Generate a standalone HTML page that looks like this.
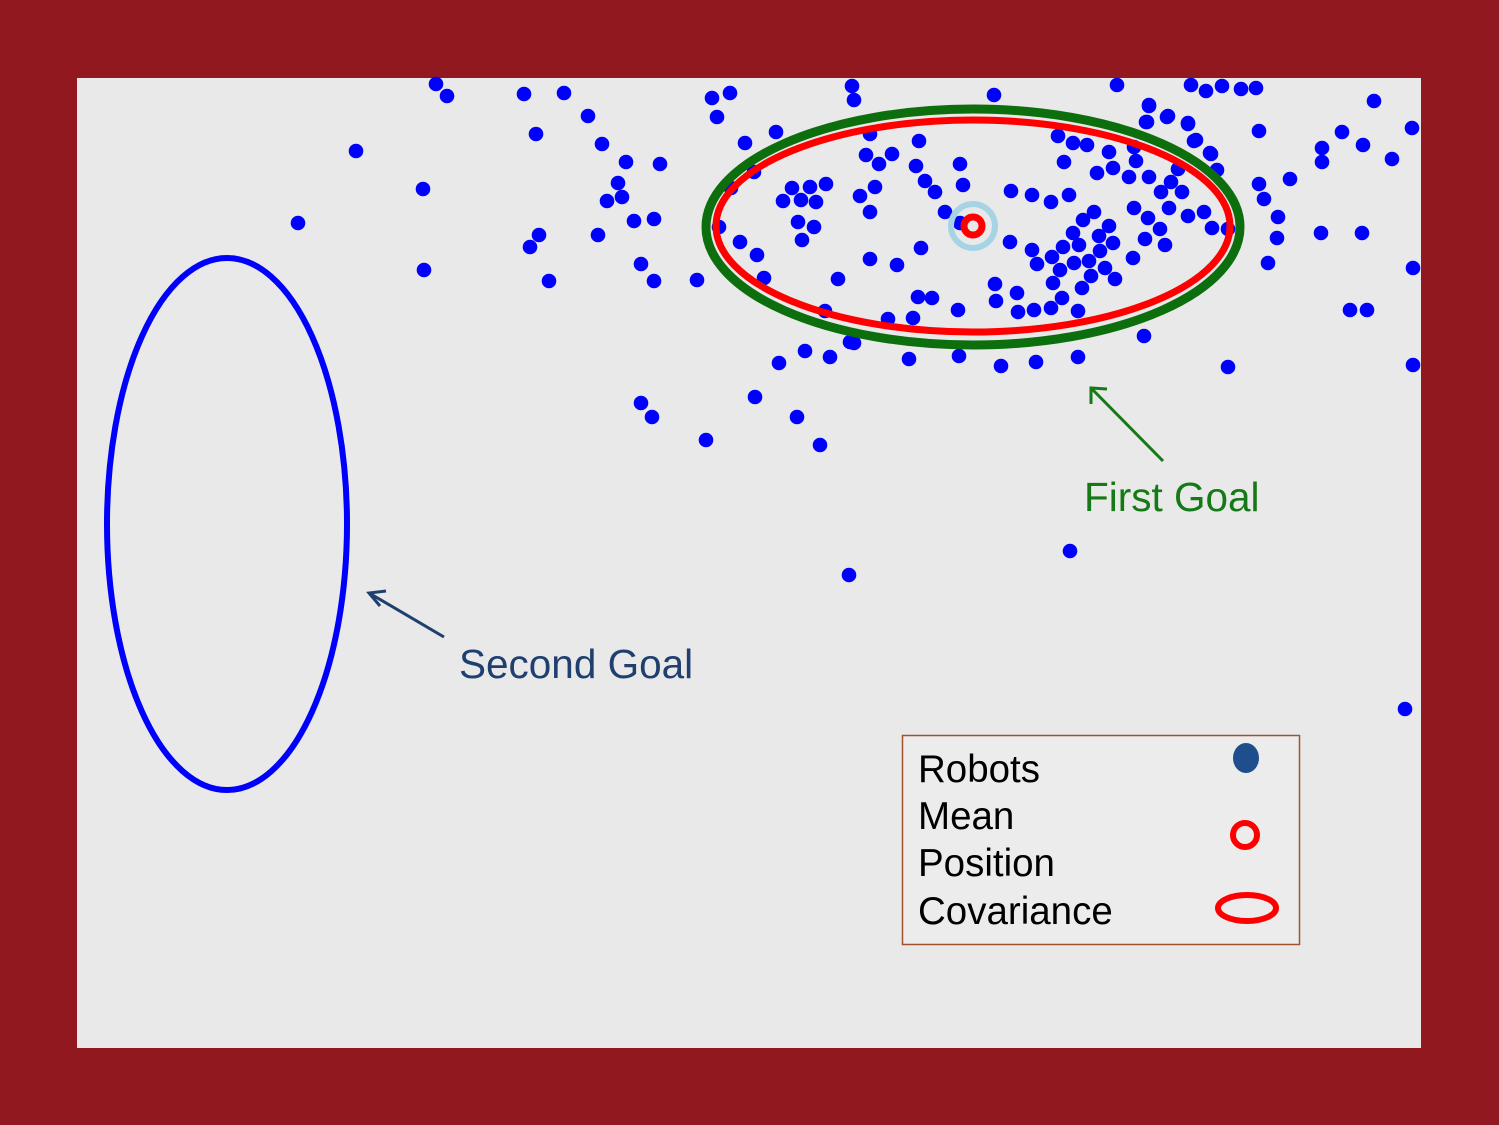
<!DOCTYPE html>
<html><head><meta charset="utf-8"><style>
html,body{margin:0;padding:0;background:#921820;}
svg{display:block;font-family:"Liberation Sans",sans-serif;}
</style></head><body>
<svg width="1499" height="1125" viewBox="0 0 1499 1125">
<rect x="0" y="0" width="1499" height="1125" fill="#921820"/>
<rect x="77" y="78" width="1344" height="970" fill="#e9e9e9"/>
<g id="dots"></g>
<ellipse cx="227" cy="524" rx="120" ry="266" fill="none" stroke="#0000ff" stroke-width="6"/>
<ellipse cx="973" cy="227" rx="267" ry="118" fill="none" stroke="#0d6e0d" stroke-width="9"/>
<ellipse cx="973" cy="226" rx="257" ry="106" fill="none" stroke="#ff0000" stroke-width="7"/>
<circle cx="973" cy="226" r="22" fill="none" stroke="#a6d4e4" stroke-width="6"/>
<circle cx="973" cy="226" r="9" fill="none" stroke="#ff0000" stroke-width="7"/>
<g stroke="#157a15" stroke-width="3" fill="none">
<line x1="1163" y1="461" x2="1091" y2="388"/><polyline points="1091,404 1091,388 1107,389"/></g>
<text x="1084" y="511" font-size="40.5" fill="#157a15">First Goal</text>
<g stroke="#1f3f6f" stroke-width="3" fill="none">
<line x1="444" y1="637" x2="369" y2="593"/><polyline points="380,606 369,593 386,591"/></g>
<text x="459" y="678" font-size="40.5" fill="#1f3f6f">Second Goal</text>
<g>
<rect x="902.5" y="735.5" width="397" height="209" fill="#ececec" stroke="#a0522d" stroke-width="1.5"/>
<text x="918" y="782" font-size="38.5" fill="#000">Robots</text>
<text x="918" y="829" font-size="38.5" fill="#000">Mean</text>
<text x="918" y="876" font-size="38.5" fill="#000">Position</text>
<text x="918" y="924" font-size="38.5" fill="#000">Covariance</text>
<ellipse cx="1246" cy="758" rx="13" ry="15" fill="#1f4e8c"/>
<circle cx="1245" cy="835" r="12" fill="none" stroke="#ff0000" stroke-width="6"/>
<ellipse cx="1247" cy="908" rx="29" ry="13" fill="none" stroke="#ff0000" stroke-width="6"/>
</g>
</svg>
<script>
const robotX=[436,447,524,564,536,588,602,626,660,618,607,622,634,654,598,539,530,549,641,654,697,356,423,298,424,641,652,706,755,797,820,850,849,1070,1405,1413,1413,
712,730,717,852,854,994,1117,1191,1206,1222,1241,1256,1374,1412,1149,1146,1168,1188,1196,1211,1259,1342,1322,1363,1392,1322,1290,1259,1264,1278,1277,1268,1321,1362,1350,1367,
776,745,754,731,719,740,757,764,792,810,826,783,801,816,798,814,802,838,870,897,921,870,860,875,866,879,892,870,919,916,925,935,960,963,945,960,1011,1032,1051,1069,1010,1032,1037,1052,1063,1079,1060,1074,1089,1083,1094,1109,1099,1073,1113,1100,1105,1115,1091,1082,1053,1062,995,1017,996,1018,1034,1051,1078,1133,1145,1160,1165,1134,1148,1169,1188,1204,1212,1228,1161,1171,1182,1178,1149,1129,1113,1097,1064,1109,1136,1134,1087,1073,1058,1147,1149,1167,1188,1194,1210,1217,918,932,958,913,888,825,854,805,830,779,909,959,1001,1036,1078,1144,1228];
const robotY=[84,96,94,93,134,116,144,162,164,183,201,197,221,219,235,235,247,281,264,281,280,151,189,223,270,403,417,440,397,417,445,342,575,551,709,365,268,
98,93,117,86,100,95,85,85,91,86,89,88,101,128,106,122,116,124,140,154,131,132,148,145,159,162,179,184,199,217,238,263,233,233,310,310,
132,143,172,188,227,242,255,278,188,187,184,201,200,202,222,227,240,279,259,265,248,212,196,187,155,164,154,134,141,166,181,192,164,185,212,223,191,195,202,195,242,250,264,257,247,245,270,263,261,220,212,226,236,233,243,251,268,279,276,288,283,298,284,293,301,312,310,308,311,258,239,229,245,208,218,208,216,212,228,229,192,182,192,169,177,177,168,173,162,152,161,147,145,143,136,122,105,117,123,141,153,170,297,298,310,318,319,311,343,351,357,363,359,356,366,362,357,336,367];
const ox=0, oy=0;
function sx(v){return ox+v;}
function sy(v){return oy+v;}
const g=document.getElementById('dots');
for(let i=0;i<robotX.length;i++){
  const c=document.createElementNS('http://www.w3.org/2000/svg','circle');
  c.setAttribute('cx',sx(robotX[i]));c.setAttribute('cy',sy(robotY[i]));
  c.setAttribute('r',7.3);c.setAttribute('fill','#0000ff');
  
  
  g.appendChild(c);
}
</script>
</body></html>
